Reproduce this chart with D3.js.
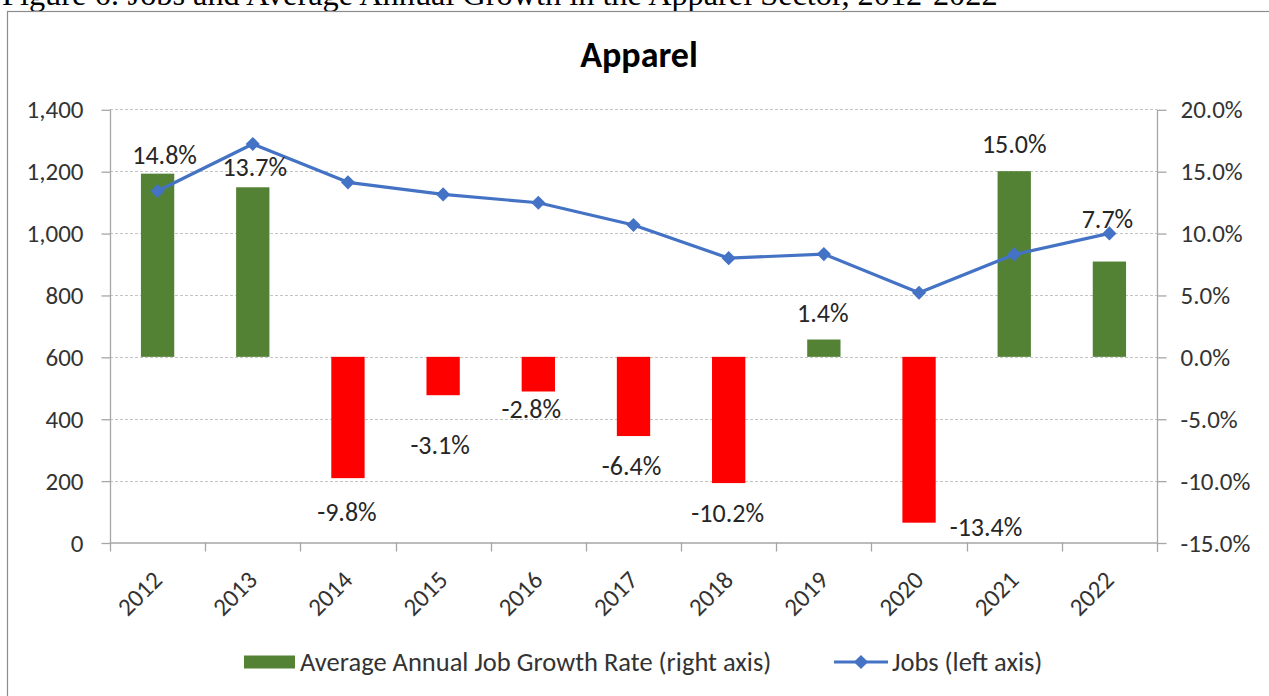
<!DOCTYPE html>
<html>
    <head>
        <meta charset="utf-8">
        <title>Apparel</title>
        <style>
            body { margin: 0; background: #fff; }
            svg { display: block; font-family: Calibri, Carlito, Lato, sans-serif; }
            .tick-label { fill: #333; font-size: 25px; }
            .legend-label { fill: #333; font-size: 26.5px; }
            .data-label { fill: #262626; font-size: 26px; }
        </style>
        <script src="https://d3js.org/d3.v7.min.js"></script>
    </head>
    <body>
        <svg></svg>
        <script>
            // chart data
            const years = ['2012', '2013', '2014', '2015', '2016', '2017', '2018', '2019', '2020', '2021', '2022'];
            const jobs = [1136, 1288, 1164, 1125, 1098, 1026, 919, 932, 807, 931, 999];
            const growth = [14.8, 13.7, -9.8, -3.1, -2.8, -6.4, -10.2, 1.4, -13.4, 15.0, 7.7];
            const jobTicks = [0, 200, 400, 600, 800, 1000, 1200, 1400];
            const growthTicks = [-15, -10, -5, 0, 5, 10, 15, 20];

            // hand placed label nudges (px) as in the original
            const labelDx = [7, 2, -1, -3, -7, -2, -1, -1, 67, 0, -2];
            const labelDy = [-19, -20, 34, 50, 18, 30, 30, -27, 4, -27, -43];

            const width = 1269;
            const height = 696;
            const plotLeft = 110, plotRight = 1157, plotTop = 109.3, plotBottom = 542.5;

            const svg = d3.select('svg')
                .attr('width', width)
                .attr('height', height);

            svg.append('text')
                .attr('x', 2)
                .attr('y', 5)
                .style('font-family', '"Liberation Serif", "Times New Roman", serif')
                .style('font-size', '32.3px')
                .attr('fill', '#000')
                .text('Figure 6: Jobs and Average Annual Growth in the Apparel Sector, 2012-2022');

            svg.append('rect')
                .attr('x', 7.5)
                .attr('y', 11.5)
                .attr('width', 1300)
                .attr('height', 700)
                .attr('fill', '#fff')
                .attr('stroke', '#8c8c8c')
                .attr('stroke-width', 1.2);

            svg.append('text')
                .attr('x', 639)
                .attr('y', 67)
                .attr('text-anchor', 'middle')
                .style('font-size', '36px')
                .style('font-weight', 'bold')
                .attr('fill', '#000')
                .text('Apparel');

            const x = d3.scaleBand()
                .domain(years)
                .range([plotLeft, plotRight])
                .padding(0);

            const yJobs = d3.scaleLinear()
                .domain([0, 1400])
                .range([plotBottom, plotTop]);

            const yGrowth = d3.scaleLinear()
                .domain([-15, 20])
                .range([plotBottom, plotTop]);

            // gridlines
            svg.append('g')
                .selectAll('line')
                .data(jobTicks.slice(1))
                .enter().append('line')
                .attr('x1', plotLeft)
                .attr('x2', plotRight)
                .attr('y1', d => Math.round(yJobs(d)) + 0.5)
                .attr('y2', d => Math.round(yJobs(d)) + 0.5)
                .attr('stroke', '#c4c4c4')
                .attr('stroke-dasharray', '3,2');

            // left axis
            const leftAxis = svg.append('g')
                .attr('transform', 'translate(' + (plotLeft + 0.5) + ',0.5)')
                .call(d3.axisLeft(yJobs).tickValues(jobTicks).tickSize(9).tickPadding(18).tickFormat(d3.format(',')));

            // right axis
            const rightAxis = svg.append('g')
                .attr('transform', 'translate(' + (plotRight + 0.5) + ',0.5)')
                .call(d3.axisRight(yGrowth).tickValues(growthTicks).tickSize(9).tickPadding(14).tickFormat(d => d.toFixed(1) + '%'));

            [leftAxis, rightAxis].forEach(a => {
                a.attr('font-family', null).attr('font-size', null);
                a.select('.domain').attr('stroke', '#a6a6a6').attr('stroke-width', 1.3)
                    .attr('d', a === leftAxis ? 'M0,' + plotTop + 'V' + plotBottom : 'M0,' + plotTop + 'V' + (plotBottom + 9));
                a.selectAll('.tick line').attr('stroke', '#a6a6a6').attr('stroke-width', 1.3);
                a.selectAll('.tick text').attr('class', 'tick-label');
            });

            // bottom axis: line and ticks at category boundaries
            const xAxis = svg.append('g');
            xAxis.append('line')
                .attr('x1', plotLeft)
                .attr('x2', plotRight)
                .attr('y1', plotBottom + 0.5)
                .attr('y2', plotBottom + 0.5)
                .attr('stroke', '#a6a6a6')
                .attr('stroke-width', 1.3);
            xAxis.selectAll('.xtick')
                .data(years)
                .enter().append('line')
                .attr('class', 'xtick')
                .attr('x1', d => Math.round(x(d)) + 0.5)
                .attr('x2', d => Math.round(x(d)) + 0.5)
                .attr('y1', plotBottom)
                .attr('y2', plotBottom + 9)
                .attr('stroke', '#a6a6a6')
                .attr('stroke-width', 1.3);
            xAxis.selectAll('.xlabel')
                .data(years)
                .enter().append('text')
                .attr('class', 'tick-label')
                .attr('text-anchor', 'end')
                .attr('transform', d => 'translate(' + (x(d) + x.bandwidth() / 2 + 6) + ',' + (plotBottom + 39) + ')rotate(-45)')
                .text(d => d);

            // bars
            const barW = x.bandwidth() * 0.35;
            svg.append('g')
                .selectAll('rect')
                .data(growth)
                .enter().append('rect')
                .attr('x', (d, i) => x(years[i]) + (x.bandwidth() - barW) / 2)
                .attr('y', d => yGrowth(Math.max(0, d)))
                .attr('width', barW)
                .attr('height', d => Math.abs(yGrowth(d) - yGrowth(0)))
                .attr('fill', d => d >= 0 ? '#548235' : '#ff0000');

            // jobs line
            const line = d3.line()
                .x((d, i) => x(years[i]) + x.bandwidth() / 2)
                .y(d => yJobs(d));

            svg.append('path')
                .datum(jobs)
                .attr('d', line)
                .attr('fill', 'none')
                .attr('stroke', '#4472c4')
                .attr('stroke-width', 3.2)
                .attr('stroke-linejoin', 'round');

            const diamond = d3.symbol().type(d3.symbolSquare).size(100);
            svg.append('g')
                .selectAll('path')
                .data(jobs)
                .enter().append('path')
                .attr('d', diamond)
                .attr('transform', (d, i) => 'translate(' + (x(years[i]) + x.bandwidth() / 2) + ',' + yJobs(d) + ')rotate(45)')
                .attr('fill', '#4472c4');

            // bar labels
            svg.append('g')
                .selectAll('text')
                .data(growth)
                .enter().append('text')
                .attr('class', 'data-label')
                .attr('text-anchor', 'middle')
                .attr('dominant-baseline', 'central')
                .attr('x', (d, i) => x(years[i]) + x.bandwidth() / 2 + labelDx[i])
                .attr('y', (d, i) => yGrowth(d) + labelDy[i])
                .text(d => d.toFixed(1) + '%');

            // legend
            const legend = svg.append('g').attr('transform', 'translate(0,662)');
            legend.append('rect')
                .attr('x', 244)
                .attr('y', -6.5)
                .attr('width', 51)
                .attr('height', 13)
                .attr('fill', '#548235');
            legend.append('text')
                .attr('class', 'legend-label')
                .attr('x', 300)
                .attr('dominant-baseline', 'central')
                .text('Average Annual Job Growth Rate (right axis)');
            legend.append('line')
                .attr('x1', 834)
                .attr('x2', 888)
                .attr('stroke', '#4472c4')
                .attr('stroke-width', 3.2);
            legend.append('path')
                .attr('d', diamond)
                .attr('transform', 'translate(861,0)rotate(45)')
                .attr('fill', '#4472c4');
            legend.append('text')
                .attr('class', 'legend-label')
                .attr('x', 892)
                .attr('dominant-baseline', 'central')
                .text('Jobs (left axis)');
        </script>
    </body>
</html>
